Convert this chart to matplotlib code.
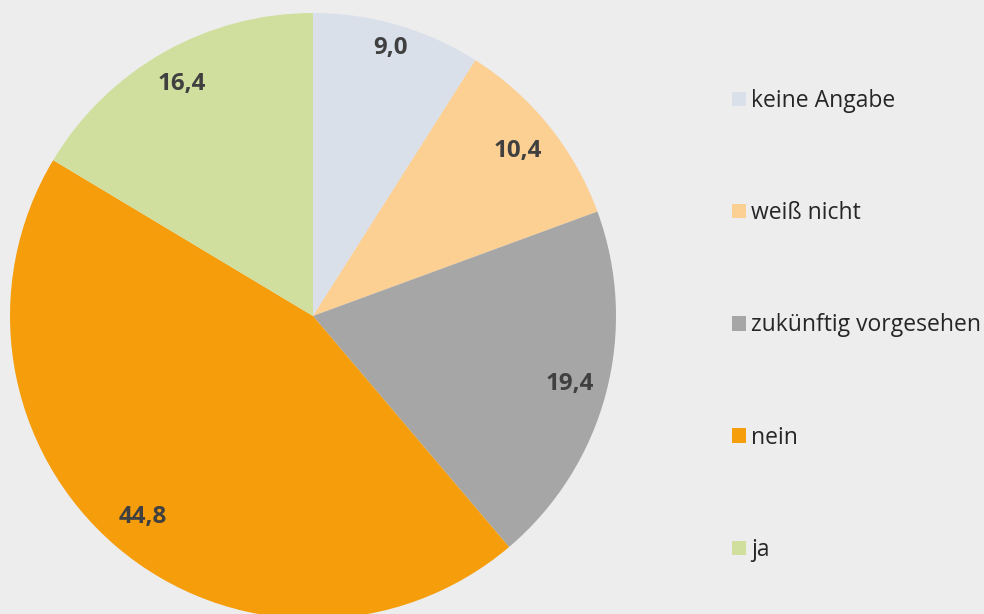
import numpy as np
import matplotlib
matplotlib.use('Agg')
import matplotlib.pyplot as plt
from matplotlib.patches import Patch

plt.rcParams['font.family'] = ['Open Sans', 'DejaVu Sans']

labels = ['keine Angabe', 'weiß nicht', 'zukünftig vorgesehen', 'nein', 'ja']
values = [9.0, 10.4, 19.4, 44.8, 16.4]
colors = ['#D9E0EA', '#FCCF93', '#A6A6A6', '#F59D0A', '#D1DF9E']
label_dist = [0.92, 0.87, 0.875, 0.87, 0.88]

bg = '#EDEDED'
fig = plt.figure(figsize=(9.84, 6.14), dpi=100, facecolor=bg)
W, H = 984, 614
cx, cy, r = 313, 316, 303
ax = fig.add_axes([(cx - r) / W, (H - cy - r) / H, 2 * r / W, 2 * r / H])
ax.set_facecolor(bg)

wedges, _ = ax.pie(values, colors=colors, startangle=90, counterclock=False,
                   radius=1, wedgeprops=dict(linewidth=0))
ax.set_xlim(-1, 1)
ax.set_ylim(-1, 1)
ax.set_aspect('equal')
ax.axis('off')

for w, v, d in zip(wedges, values, label_dist):
    ang = np.deg2rad((w.theta1 + w.theta2) / 2)
    ax.text(d * np.cos(ang), d * np.sin(ang), f'{v:.1f}'.replace('.', ','),
            ha='center', va='center', fontsize=17.4, fontweight='bold', color='#404040')

handles = [Patch(facecolor=c, edgecolor='none') for c in colors]
fig.legend(handles, labels, loc='upper left', bbox_to_anchor=(732 / W, 1 - 89 / H),
           frameon=False, fontsize=16.5, labelcolor='#262626',
           handlelength=0.6, handleheight=0.6, handletextpad=0.25,
           labelspacing=3.85, borderaxespad=0, borderpad=0)

fig.savefig('out.png', dpi=100, facecolor=bg)
